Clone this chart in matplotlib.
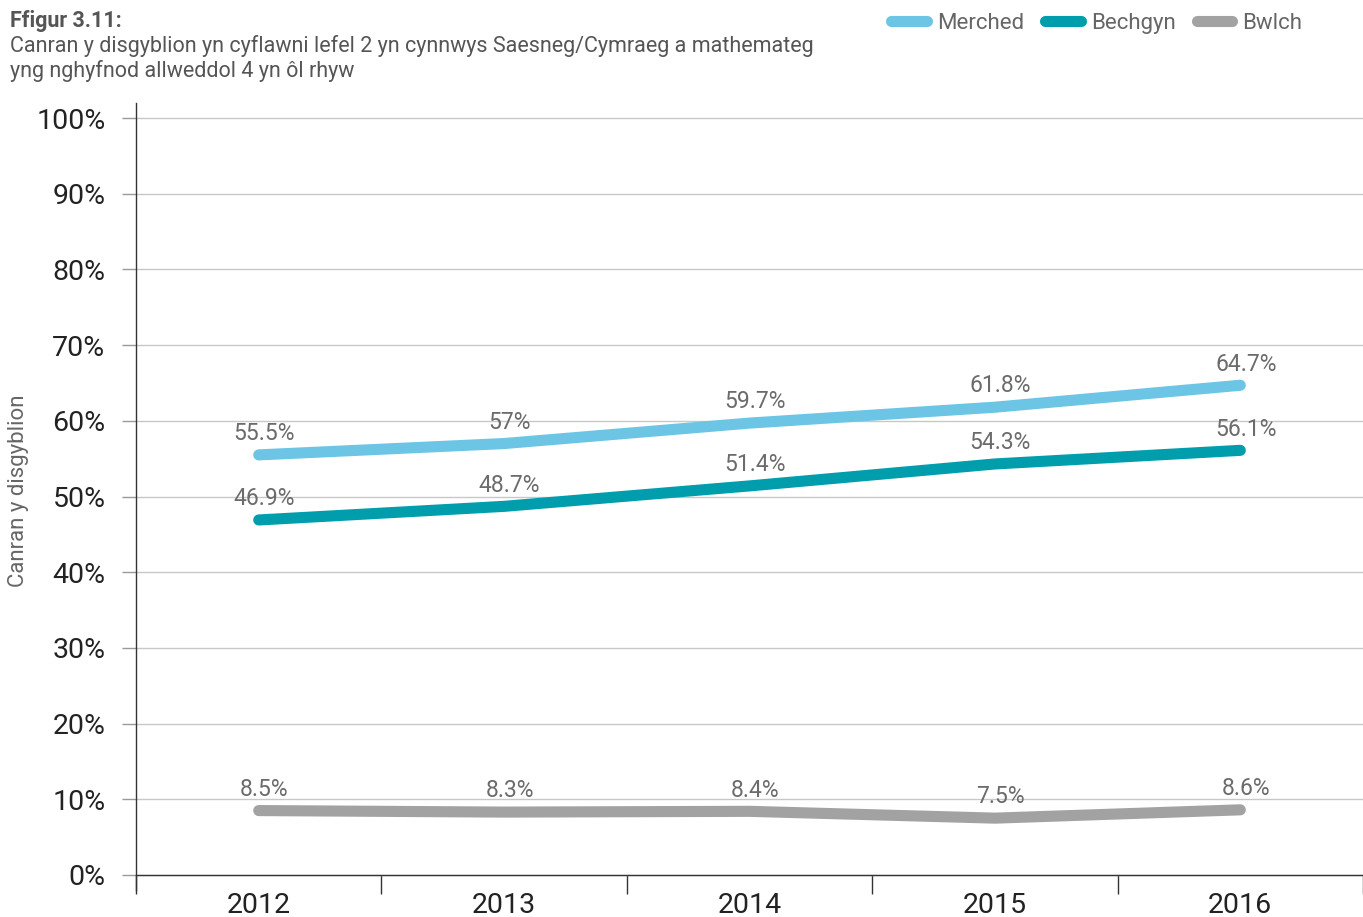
import numpy as np
import matplotlib
matplotlib.use("Agg")
from matplotlib import pyplot as plt

plt.rcParams["font.family"] = ["Roboto", "DejaVu Sans"]

years = ["2012", "2013", "2014", "2015", "2016"]
merched = [55.5, 57.0, 59.7, 61.8, 64.7]
bechgyn = [46.9, 48.7, 51.4, 54.3, 56.1]
bwlch = [8.5, 8.3, 8.4, 7.5, 8.6]
merched_labels = ["55.5%", "57%", "59.7%", "61.8%", "64.7%"]
bechgyn_labels = ["46.9%", "48.7%", "51.4%", "54.3%", "56.1%"]
bwlch_labels = ["8.5%", "8.3%", "8.4%", "7.5%", "8.6%"]

series = [
    ("Merched", merched, merched_labels, "#6cc5e5"),
    ("Bechgyn", bechgyn, bechgyn_labels, "#009dad"),
    ("Bwlch", bwlch, bwlch_labels, "#a2a2a2"),
]

fig = plt.figure(figsize=(13.63, 9.17), dpi=100)
ax = fig.add_axes([0.0998, 0.0294, 0.9002, 0.8583])

x = np.arange(len(years))
for name, vals, labels, color in series:
    ax.plot(x, vals, color=color, lw=8, solid_capstyle="round",
            solid_joinstyle="round", label=name, zorder=3)
    for xi, v, lab in zip(x, vals, labels):
        ax.annotate(lab, (xi, v), xytext=(4, 7), textcoords="offset points",
                    ha="center", va="bottom", fontsize=16.5, color="#6b6b6b")

ax.set_xlim(-0.5, len(years) - 0.5)
ax.set_ylim(-2, 102)
ax.set_yticks(np.arange(0, 101, 10))
ax.set_yticklabels([f"{v}%" for v in range(0, 101, 10)])
ax.set_xticks(x)
ax.set_xticklabels(years)
ax.set_xticks(np.arange(-0.5, len(years)), minor=True)

ax.spines["bottom"].set_position(("data", 0))
ax.spines["top"].set_visible(False)
ax.spines["right"].set_visible(False)
for s in ("left", "bottom"):
    ax.spines[s].set_color("#333333")
    ax.spines[s].set_linewidth(1.0)

ax.tick_params(axis="x", which="major", length=0, labelsize=20.5, pad=12,
               labelcolor="#222222")
ax.tick_params(axis="x", which="minor", length=14, width=1, color="#333333")
ax.tick_params(axis="y", length=10, width=1, color="#999999", labelsize=20.5,
               labelcolor="#222222", pad=12)

ax.grid(axis="y", color="#c8c8c8", lw=1)
ax.set_axisbelow(True)

fig.text(0.0075, 0.977, "Ffigur 3.11:", fontsize=15.5, fontweight="bold",
         color="#555555", va="center")
fig.text(0.0075, 0.950, "Canran y disgyblion yn cyflawni lefel 2 yn cynnwys Saesneg/Cymraeg a mathemateg",
         fontsize=15.5, color="#555555", va="center")
fig.text(0.0075, 0.923, "yng nghyfnod allweddol 4 yn ôl rhyw",
         fontsize=15.5, color="#555555", va="center")
fig.text(0.0135, 0.465, "Canran y disgyblion", rotation=90, fontsize=16,
         color="#666666", ha="center", va="center")

leg = fig.legend(loc="upper right", bbox_to_anchor=(0.97, 1.008), ncol=3,
                 frameon=False, fontsize=16, handlelength=1.6,
                 columnspacing=0.95, handletextpad=0.45)
for t in leg.get_texts():
    t.set_color("#666666")

fig.savefig("out.png", dpi=100)
